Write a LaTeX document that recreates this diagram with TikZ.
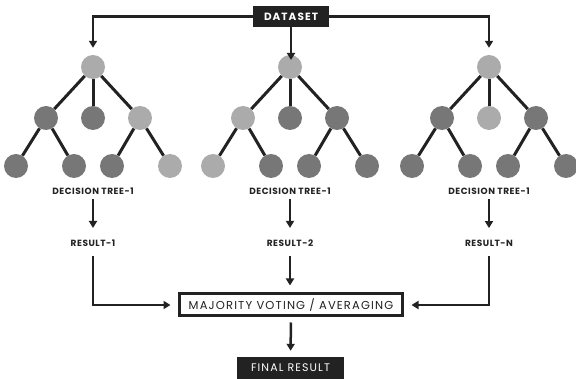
\documentclass[tikz,border=0pt]{standalone}
\usepackage{fontspec}
\setmainfont{Poppins}
\usepackage{xcolor}
\usetikzlibrary{positioning,calc,arrows.meta}

\definecolor{ink}{HTML}{222222}
\definecolor{lt}{HTML}{ABABAB}
\definecolor{dk}{HTML}{777777}

\newfontfamily\capfont{Poppins}[LetterSpace=6]
\newfontfamily\boxfont{Poppins}[LetterSpace=10]

\begin{document}
\begin{tikzpicture}[x=1pt, y=-1pt,
    ball/.style={circle, minimum size=24pt, inner sep=0pt},
    branch/.style={ink, line width=3pt},
    flow/.style={ink, line width=2.5pt, -{Triangle[width=8pt,length=7pt]}},
    caption/.style={font=\capfont\bfseries\fontsize{9}{10}\selectfont, text=ink, inner sep=0pt},
    darkbox/.style={fill=ink, text=white, inner sep=0pt, font=\boxfont\bfseries\fontsize{10.5}{11}\selectfont}]
    \useasboundingbox (0,0) rectangle (576,379);

    % Dataset
    \node[darkbox, minimum width=76pt, minimum height=21pt] (data) at (291,16.5) {DATASET};

    % Trees, captions and results
    \foreach \n/\cx/\colR/\colA/\colB/\colC/\colAA/\colAB/\colCA/\colCB/\res in
        {1/93/lt/dk/dk/lt/dk/dk/dk/lt/RESULT-1,
         2/290/lt/lt/dk/dk/lt/dk/dk/dk/RESULT-2,
         3/489/lt/dk/lt/dk/dk/dk/dk/dk/RESULT-N}{
        \node[ball, fill=\colR] (t\n-r) at (\cx,67) {};
        \node[ball, fill=\colA] (t\n-a) at (\cx-47,118) {};
        \node[ball, fill=\colB] (t\n-b) at (\cx,118) {};
        \node[ball, fill=\colC] (t\n-c) at (\cx+47,118) {};
        \node[ball, fill=\colAA] (t\n-aa) at (\cx-77,166) {};
        \node[ball, fill=\colAB] (t\n-ab) at (\cx-19,166) {};
        \node[ball, fill=\colCA] (t\n-ca) at (\cx+19,166) {};
        \node[ball, fill=\colCB] (t\n-cb) at (\cx+77,166) {};
        \draw[branch] (t\n-r) -- (t\n-a);
        \draw[branch] (t\n-r) -- (t\n-b);
        \draw[branch] (t\n-r) -- (t\n-c);
        \draw[branch] (t\n-a) -- (t\n-aa);
        \draw[branch] (t\n-a) -- (t\n-ab);
        \draw[branch] (t\n-c) -- (t\n-ca);
        \draw[branch] (t\n-c) -- (t\n-cb);

        \node[caption] (dt\n) at (\cx,191) {DECISION TREE-1};
        \node[caption] (res\n) at (\cx,243) {\res};
        \draw[flow, shorten <=4.5pt, shorten >=11.5pt] (dt\n) -- (res\n);
    }

    % Dataset to trees
    \draw[flow, shorten >=7pt] (data.west) -| (t1-r);
    \draw[flow, shorten >=7pt] (data) -- (data |- t2-r);
    \draw[flow, shorten >=7pt] (data.east) -| (t3-r);

    % Voting
    \node[draw=ink, line width=3pt, fill=white, minimum width=223pt, minimum height=22pt,
          inner sep=0pt, font=\boxfont\fontsize{11.5}{12}\selectfont, text=ink]
          (vote) at (291,305) {MAJORITY VOTING / AVERAGING};
    \draw[flow, shorten <=9.5pt, shorten >=7pt] (res2) -- (res2 |- vote.north);
    \draw[flow, shorten <=9.5pt, shorten >=7.5pt] (res1) |- (vote.west);
    \draw[flow, shorten <=9.5pt, shorten >=7.5pt] (res3) |- (vote.east);

    % Final result
    \node[darkbox, minimum width=107pt, minimum height=22pt,
          font=\boxfont\fontsize{11}{12}\selectfont] (final) at (290.5,368) {FINAL RESULT};
    \draw[flow, shorten <=5pt, shorten >=6pt] (vote.south) -- (final.north);
\end{tikzpicture}
\end{document}
